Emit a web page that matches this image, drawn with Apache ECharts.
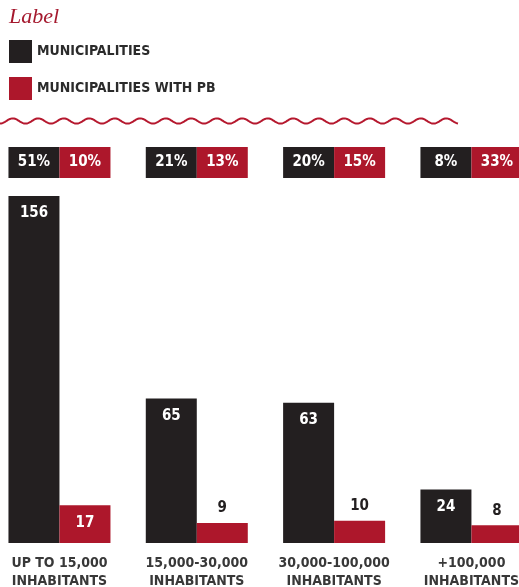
<!DOCTYPE html>
<html>
<head>
<meta charset="utf-8">
<script src="https://cdn.jsdelivr.net/npm/echarts@6/dist/echarts.min.js"></script>
<style>
  html, body { margin: 0; padding: 0; background: #fff; }
  #chart { width: 519px; height: 587px; }
</style>
</head>
<body>
<div id="chart"></div>
<script>
// Municipality counts by population size
var categories = ['UP TO 15,000\nINHABITANTS', '15,000-30,000\nINHABITANTS', '30,000-100,000\nINHABITANTS', '+100,000\nINHABITANTS'];
var municipalities = [156, 65, 63, 24];
var municipalitiesPB = [17, 9, 10, 8];
var pctMunicipalities = ['51%', '21%', '20%', '8%'];
var pctMunicipalitiesPB = ['10%', '13%', '15%', '33%'];
var seriesNames = ['MUNICIPALITIES', 'MUNICIPALITIES WITH PB'];

var DARK = '#231f20';
var RED = '#ad172b';
var FONT = 'DejaVu Sans Condensed';

// wavy rule under the legend
var wavePts = [];
for (var x = 0; x <= 458; x += 1) {
  wavePts.push([x, 121 + 2.6 * Math.sin((x / 25.5) * 2 * Math.PI + Math.PI / 2)]);
}

var chart = echarts.init(document.getElementById('chart'));
var gridL = -9.2, gridW = 549.3;

chart.setOption({
  animation: false,
  title: {
    text: 'Label',
    left: 4, top: 1,
    textStyle: { fontFamily: 'Liberation Serif', fontStyle: 'italic', fontWeight: 'normal', fontSize: 22, color: '#a5192e' }
  },
  legend: {
    data: seriesNames,
    orient: 'vertical',
    left: 4, top: 35,
    itemWidth: 23, itemHeight: 23, itemGap: 14,
    icon: 'rect',
    selectedMode: false,
    textStyle: { fontFamily: FONT, fontWeight: 'bold', fontSize: 14, color: '#2b2b2b' }
  },
  graphic: [{
    type: 'polyline',
    shape: { points: wavePts },
    style: { stroke: '#b5182e', lineWidth: 2, fill: null }
  }],
  grid: [
    { left: gridL, width: gridW, top: 187, bottom: 44, outerBoundsMode: 'none', containLabel: false },
    { left: gridL, width: gridW, top: 147, height: 31, outerBoundsMode: 'none', containLabel: false }
  ],
  xAxis: [
    {
      gridIndex: 0, type: 'category', data: categories,
      axisLine: { show: false }, axisTick: { show: false },
      axisLabel: { interval: 0, margin: 11, fontFamily: FONT, fontWeight: 'bold', fontSize: 14, lineHeight: 18, color: '#383838' }
    },
    { gridIndex: 1, type: 'category', data: categories, show: false }
  ],
  yAxis: [
    { gridIndex: 0, type: 'value', min: 0, max: 160, show: false },
    { gridIndex: 1, type: 'value', min: 0, max: 1, show: false }
  ],
  series: [
    {
      name: seriesNames[0], type: 'bar', xAxisIndex: 0, yAxisIndex: 0,
      data: municipalities, barWidth: 51, barGap: '0%',
      itemStyle: { color: DARK },
      label: { show: true, position: 'insideTop', distance: 10, color: '#fff', fontFamily: FONT, fontWeight: 'bold', fontSize: 15 }
    },
    {
      name: seriesNames[1], type: 'bar', xAxisIndex: 0, yAxisIndex: 0,
      data: municipalitiesPB.map(function (v) {
        var inside = v >= 15;
        return {
          value: v,
          label: inside
            ? { position: 'insideTop', distance: 10, color: '#fff' }
            : { position: 'top', distance: 7, color: DARK }
        };
      }),
      barWidth: 51, barGap: '0%',
      itemStyle: { color: RED },
      label: { show: true, fontFamily: FONT, fontWeight: 'bold', fontSize: 15 }
    },
    {
      type: 'bar', xAxisIndex: 1, yAxisIndex: 1,
      data: pctMunicipalities.map(function () { return 1; }),
      barWidth: 51, barGap: '0%', silent: true,
      itemStyle: { color: DARK },
      label: { show: true, position: 'inside', color: '#fff', fontFamily: FONT, fontWeight: 'bold', fontSize: 15,
        formatter: function (p) { return pctMunicipalities[p.dataIndex]; } }
    },
    {
      type: 'bar', xAxisIndex: 1, yAxisIndex: 1,
      data: pctMunicipalitiesPB.map(function () { return 1; }),
      barWidth: 51, barGap: '0%', silent: true,
      itemStyle: { color: RED },
      label: { show: true, position: 'inside', color: '#fff', fontFamily: FONT, fontWeight: 'bold', fontSize: 15,
        formatter: function (p) { return pctMunicipalitiesPB[p.dataIndex]; } }
    }
  ]
});
</script>
</body>
</html>
